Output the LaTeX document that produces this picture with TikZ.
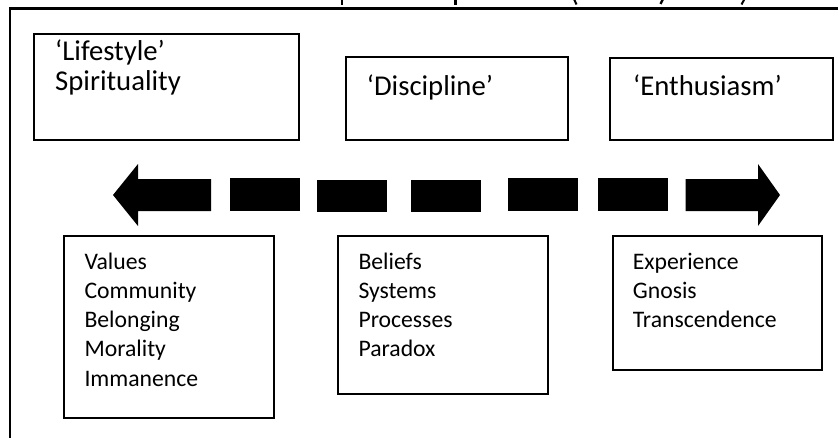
\documentclass[tikz,border=0pt]{standalone}
\usepackage{fontspec}
\setmainfont{Carlito}
\begin{document}
\begin{tikzpicture}[x=1pt,y=-1pt,
  box/.style={draw, line width=1.8pt, inner sep=0pt, anchor=north west},
  bigtxt/.style={font=\fontsize{28.7}{30}\selectfont, anchor=base west, inner sep=0pt, align=left},
  smalltxt/.style={font=\fontsize{23.7}{29.2}\selectfont, anchor=base west, inner sep=0pt, align=left},
  frame/.style={line width=2.6pt},
  dashblk/.style={fill=black}
]
\useasboundingbox (0,0) rectangle (838,437);
\clip (0,0) rectangle (838,437);

% cut-off title fragments at the very top
\fill (340.5,-1) rectangle (343,4.5);
\fill (454,-1) rectangle (456.5,4.5);
\draw[line width=2pt] (574,-1) .. controls (574.3,2) .. (576.5,4.5);
\draw[line width=2.3pt] (663,-1) -- (660.5,4);
\draw[line width=2pt] (744.5,-1) -- (741.5,4.5);

% outer frame
\draw[frame] (10,450) -- (10,8.5) -- (850,8.5);

% top boxes
\node[box, minimum width=264.7pt, minimum height=106.6pt] (life) at (33,32.7) {};
\node[box, minimum width=222.3pt, minimum height=83.3pt] (disc) at (345,56) {};
\node[box, minimum width=222.4pt, minimum height=82.6pt] (enth) at (609.3,56.7) {};
% (base anchor of a multi-line node = baseline of its last line)
\node[bigtxt] (lifet) at (55,90.7) {‘Lifestyle’\\Spirituality};
\node[bigtxt] (disct) at (366.7,95.5) {‘Discipline’};
\node[bigtxt] (entht) at (633,95.5) {‘Enthusiasm’};

% double-headed dashed block arrow
\fill[dashblk] (113,195) -- (138,164) -- (138,179) -- (211,179) -- (211,211)
   -- (138,211) -- (138,226) -- cycle;
\fill[dashblk] (229.5,178.3) rectangle (299.5,211);
\fill[dashblk] (317,180) rectangle (387,212.3);
\fill[dashblk] (411,180) rectangle (481,212.3);
\fill[dashblk] (508,178.3) rectangle (578,211);
\fill[dashblk] (597.5,178.3) rectangle (667.5,211);
\fill[dashblk] (780,195) -- (758,226) -- (758,211) -- (685.5,211) -- (685.5,179)
   -- (758,179) -- (758,164) -- cycle;

% bottom boxes
\node[box, minimum width=209.4pt, minimum height=181.7pt] (vals) at (63.3,235) {};
\node[box, minimum width=209.4pt, minimum height=157.7pt] (beli) at (337.3,235) {};
\node[box, minimum width=209pt, minimum height=134pt] (expe) at (611.7,235) {};
\node[smalltxt] (valst) at (84.3,386.1) {Values\\Community\\Belonging\\Morality\\Immanence};
\node[smalltxt] (belit) at (358.3,356.9) {Beliefs\\Systems\\Processes\\Paradox};
\node[smalltxt] (expet) at (632.7,327.7) {Experience\\Gnosis\\Transcendence};
\end{tikzpicture}
\end{document}
